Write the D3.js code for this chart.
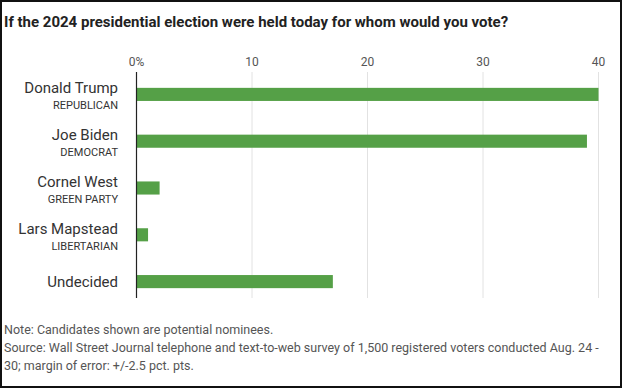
<!DOCTYPE html>
<html><head><meta charset="utf-8">
<script src="https://cdn.jsdelivr.net/npm/d3@7"></script>
<style>
body{margin:0;background:#fff;}
svg{display:block;}
text{font-family:"Liberation Sans Narrow","Roboto","DejaVu Sans Condensed",sans-serif;}
</style></head><body>
<script>
const names = ["Donald Trump","Joe Biden","Cornel West","Lars Mapstead","Undecided"];
const parties = ["REPUBLICAN","DEMOCRAT","GREEN PARTY","LIBERTARIAN",""];
const values = [40,39,2,1,17];
const ticks = [0,10,20,30,40];
const tickLabels = ["0%","10","20","30","40"];
const title = "If the 2024 presidential election were held today for whom would you vote?";
const notes = ["Note: Candidates shown are potential nominees.",
 "Source: Wall Street Journal telephone and text-to-web survey of 1,500 registered voters conducted Aug. 24 -",
 "30; margin of error: +/-2.5 pct. pts."];

const W=622,H=388;
const svg=d3.select("body").append("svg").attr("width",W).attr("height",H);
svg.append("rect").attr("x",1).attr("y",1).attr("width",W-2).attr("height",H-2)
  .attr("fill","#fff").attr("stroke","#111").attr("stroke-width",2);

svg.append("text").attr("x",4).attr("y",27).attr("font-size",15).attr("font-weight","bold")
  .attr("fill","#222").text(title);

const x=d3.scaleLinear().domain([0,40]).range([136.5,598.5]);
const y=d3.scaleBand().domain(names).range([71,305]).paddingInner(0.72).paddingOuter(0.36);

const g=svg.append("g");
// gridlines
g.selectAll("line.grid").data(ticks.slice(1)).join("line").attr("class","grid")
  .attr("x1",d=>x(d)).attr("x2",d=>x(d)).attr("y1",72).attr("y2",298)
  .attr("stroke","#e2e2e2").attr("stroke-width",1);
// tick labels
g.selectAll("text.tick").data(ticks).join("text").attr("class","tick")
  .attr("x",d=>x(d)).attr("y",66).attr("text-anchor","middle")
  .attr("font-size",12).attr("fill","#555").text((d,i)=>tickLabels[i]);

g.selectAll("rect.bar").data(values).join("rect").attr("class","bar")
  .attr("x",x(0)).attr("y",(d,i)=>y(names[i])).attr("width",d=>x(d)-x(0))
  .attr("height",y.bandwidth()).attr("fill","#55a047");

g.append("line").attr("x1",x(0)).attr("x2",x(0)).attr("y1",72).attr("y2",298)
  .attr("stroke","#222").attr("stroke-width",1.2);

names.forEach((n,i)=>{
  const cy=y(n)+y.bandwidth()/2;
  const hasP=parties[i]!=="";
  g.append("text").attr("x",118).attr("y",hasP?cy-1:cy+5).attr("text-anchor","end")
   .attr("font-size",15).attr("fill","#333").text(n);
  if(hasP) g.append("text").attr("x",118).attr("y",cy+15).attr("text-anchor","end")
   .attr("font-size",11).attr("fill","#333").text(parties[i]);
});

notes.forEach((t,i)=>{
  svg.append("text").attr("x",4).attr("y",334+i*18).attr("font-size",12.5)
   .attr("fill","#555").text(t);
});
</script>
</body></html>
